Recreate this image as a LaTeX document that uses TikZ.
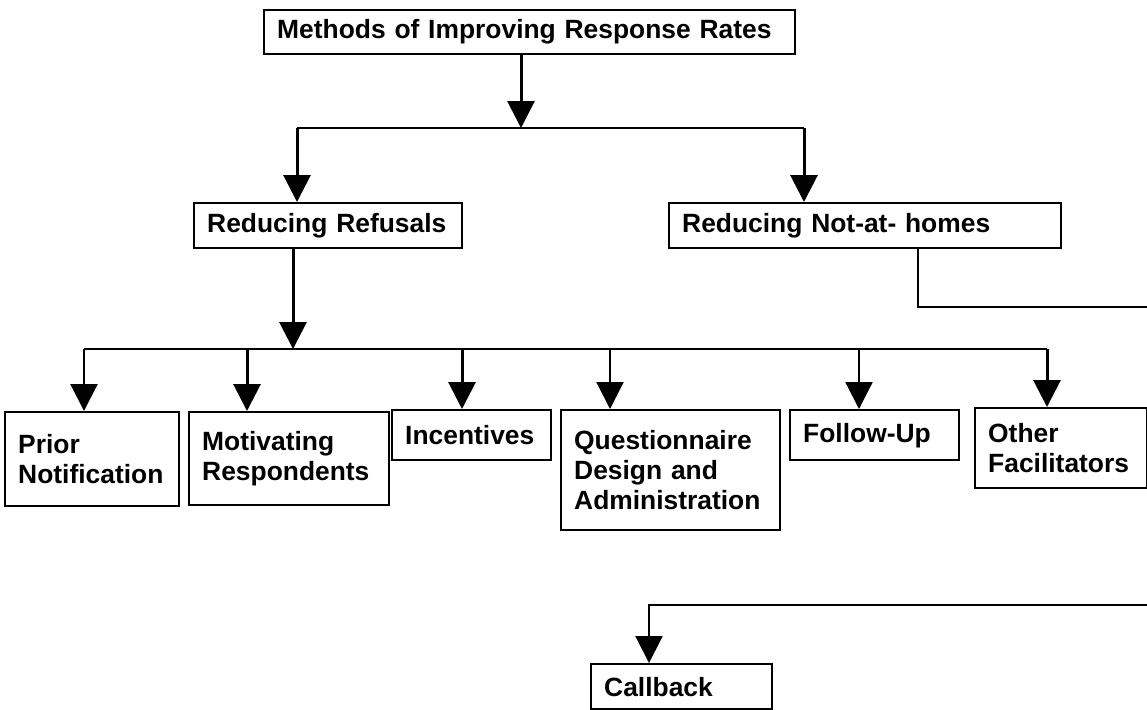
\documentclass[tikz,border=0pt]{standalone}
\usepackage{fontspec}
\setmainfont{Liberation Sans}
\usepackage{xcolor}
\usepackage{tikz}
\usetikzlibrary{arrows.meta}
\definecolor{Ink}{HTML}{000000}

\begin{document}
\begin{tikzpicture}[x=0.5pt,y=-0.5pt,
  cell/.style={draw=Ink,line width=1.2pt,anchor=north west,inner xsep=6.5pt,inner ysep=0pt,align=left,font=\bfseries\fontsize{13.2}{15}\selectfont},
  link/.style={draw=Ink,line width=1.1pt},
  arr/.style={-{Triangle[length=13.5pt,width=13.5pt]},draw=Ink,line width=1.1pt},
  arrb/.style={-{Triangle[length=13.5pt,width=13.5pt]},draw=Ink,line width=1.5pt}
]
\useasboundingbox (0,0) rectangle (1147,709);
\clip (0,0) rectangle (1147,709);

\node[cell,text width=252.5pt,minimum height=22pt] (top) at (263,9) {Methods of Improving Response Rates};
\node[cell,text width=121pt,minimum height=22.5pt] (rr) at (193,202) {Reducing Refusals};
\node[cell,text width=183pt,minimum height=22.5pt] (nah) at (668,202) {Reducing Not-at- homes};

\node[cell,text width=74pt,minimum height=47pt] (pn) at (4,411) {Prior\\Notification};
\node[cell,text width=87pt,minimum height=46.5pt] (mr) at (188,411) {Motivating\\Respondents};
\node[cell,text width=66.5pt,minimum height=25pt] (inc) at (391,409) {Incentives};
\node[cell,text width=96.5pt,minimum height=60pt] (qd) at (560,409) {Questionnaire\\Design and\\Administration};
\node[cell,text width=71.5pt,minimum height=25pt] (fu) at (789,409) {Follow-Up};
\node[cell,text width=73pt,minimum height=40pt] (of) at (974,407) {Other\\Facilitators};
\node[cell,text width=77.5pt,minimum height=22.5pt] (cb) at (590,663) {Callback};

% first split
\coordinate (s0) at (521,128);
\coordinate (b1) at (297,128);
\coordinate (b2) at (804,128);
\draw[arrb] (s0 |- top.south) -- (s0);
\draw[link] (b1) -- (b2);
\draw[arrb] (b1) -- (b1 |- rr.north);
\draw[arrb] (b2) -- (b2 |- nah.north);

% refusals
\coordinate (s1) at (293,349);
\coordinate (d1) at (84,349);
\coordinate (d2) at (247,349);
\coordinate (d3) at (462,349);
\coordinate (d4) at (610,349);
\coordinate (d5) at (859,349);
\coordinate (d6) at (1047,349);
\draw[arrb] (s1 |- rr.south) -- (s1);
\draw[link] (d1) -- (d6);
\draw[arr] (d1) -- (d1 |- pn.north);
\draw[arrb] (d2) -- (d2 |- mr.north);
\draw[arrb] (d3) -- (d3 |- inc.north);
\draw[arr] (d4) -- (d4 |- qd.north);
\draw[arr] (d5) -- (d5 |- fu.north);
\draw[arrb] (d6) -- (d6 |- of.north);

% not-at-homes, runs off the right edge
\coordinate (r1) at (918,307);
\coordinate (c1) at (649,605);
\draw[arr] (r1 |- nah.south) -- (r1) -- (1170,307) -- (1170,605) -- (c1) -- (c1 |- cb.north);
\end{tikzpicture}
\end{document}
